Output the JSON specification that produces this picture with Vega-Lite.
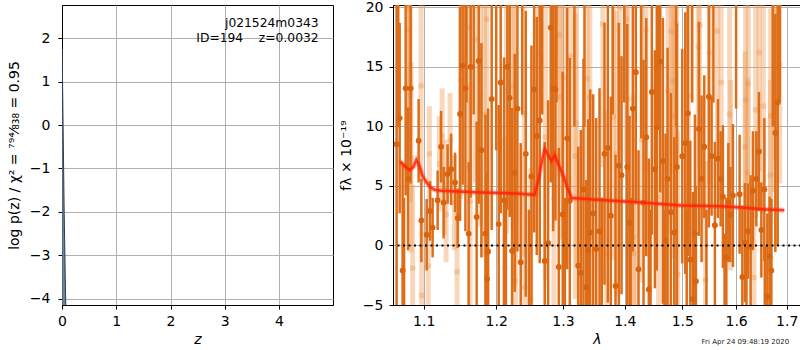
{
  "$schema": "https://vega.github.io/schema/vega-lite/v6.json",
  "padding": {"left": 6, "top": -1, "right": 0, "bottom": 0},
  "autosize": {"type": "pad"},
  "spacing": 4,
  "config": {
    "font": "DejaVu Sans",
    "view": {"stroke": "black", "strokeWidth": 1},
    "axis": {
      "grid": true, "gridColor": "#b0b0b0", "gridWidth": 1,
      "domainColor": "black", "tickColor": "black", "tickSize": 4,
      "labelFontSize": 14, "titleFontSize": 14, "labelColor": "black", "titleColor": "black",
      "titleFontWeight": "normal", "labelFont": "DejaVu Sans", "titleFont": "DejaVu Sans"
    }
  },
  "datasets": {
    "pz": [
      {"z": 0, "lp": 1.7}, {"z": 0.0032, "lp": 1.75}, {"z": 0.01, "lp": 1.0}, {"z": 0.02, "lp": 0.0},
      {"z": 0.04, "lp": -2.0}, {"z": 0.06, "lp": -3.5}, {"z": 0.075, "lp": -4.5}
    ],
    "notes": [
      {"z": 4.73, "lp": 2.34, "t": "j021524m0343"},
      {"z": 4.73, "lp": 2.0, "t": "ID=194\u00a0\u00a0\u00a0\u00a0z=0.0032"}
    ],
    "dark": [
      {"w": 1.0649, "f": 8.5, "lo": -5.5, "hi": 22.5},
      {"w": 1.0670, "f": 23, "lo": 10, "hi": 36},
      {"w": 1.0688, "f": 10.7, "lo": 2.7, "hi": 18.7},
      {"w": 1.0726, "f": -2.1, "lo": -11.1, "hi": 6.9},
      {"w": 1.0745, "f": -8, "lo": -20, "hi": 4},
      {"w": 1.0765, "f": 13.2, "lo": 4.2, "hi": 22.2},
      {"w": 1.0796, "f": 5.6, "lo": -0.4, "hi": 11.6},
      {"w": 1.0830, "f": 13.2, "lo": 5.2, "hi": 21.2},
      {"w": 1.0934, "f": 8.8, "lo": 5.3, "hi": 12.3},
      {"w": 1.0970, "f": 2.1, "lo": -1.4, "hi": 5.6},
      {"w": 1.1040, "f": 0.9, "lo": -2.1, "hi": 3.9},
      {"w": 1.1085, "f": 2.9, "lo": 0.4, "hi": 5.4},
      {"w": 1.1119, "f": 1.5, "lo": -1.0, "hi": 4.0},
      {"w": 1.1186, "f": 3.8, "lo": 1.3, "hi": 6.3},
      {"w": 1.1232, "f": 8.3, "lo": 5.3, "hi": 11.3},
      {"w": 1.1267, "f": 3.6, "lo": 0.6, "hi": 6.6},
      {"w": 1.1321, "f": 6.0, "lo": 3.5, "hi": 8.5},
      {"w": 1.1368, "f": 6.4, "lo": 3.4, "hi": 9.4},
      {"w": 1.1422, "f": 5.3, "lo": 2.8, "hi": 7.8},
      {"w": 1.1458, "f": 2.3, "lo": -0.2, "hi": 4.8},
      {"w": 1.1491, "f": 11.05, "lo": 2.05, "hi": 20.05},
      {"w": 1.1527, "f": 15.1, "lo": 5.1, "hi": 25.1},
      {"w": 1.1565, "f": 13.2, "lo": 1.2, "hi": 25.2},
      {"w": 1.1580, "f": 24, "lo": 12, "hi": 36},
      {"w": 1.1610, "f": 1.0, "lo": -5.0, "hi": 7.0},
      {"w": 1.1638, "f": 15.0, "lo": 4.0, "hi": 26.0},
      {"w": 1.1680, "f": 25, "lo": 11, "hi": 39},
      {"w": 1.1722, "f": 2.4, "lo": -5.6, "hi": 10.4},
      {"w": 1.1751, "f": 15.5, "lo": 3.5, "hi": 27.5},
      {"w": 1.1789, "f": 8.0, "lo": -1.0, "hi": 17.0},
      {"w": 1.1846, "f": 1.0, "lo": -9.0, "hi": 11.0},
      {"w": 1.1870, "f": -2.8, "lo": -11.8, "hi": 6.2},
      {"w": 1.1884, "f": -0.5, "lo": -12.5, "hi": 11.5},
      {"w": 1.1935, "f": 12.3, "lo": 1.3, "hi": 23.3},
      {"w": 1.2000, "f": 22, "lo": 8, "hi": 36},
      {"w": 1.2036, "f": 1.8, "lo": -8.2, "hi": 11.8},
      {"w": 1.2065, "f": 13.7, "lo": 2.7, "hi": 24.7},
      {"w": 1.2114, "f": 3.8, "lo": -8.2, "hi": 15.8},
      {"w": 1.2140, "f": -9, "lo": -22, "hi": 4},
      {"w": 1.2162, "f": 15.0, "lo": 3.0, "hi": 27.0},
      {"w": 1.2196, "f": 12.4, "lo": 2.4, "hi": 22.4},
      {"w": 1.2231, "f": -0.45, "lo": -12.45, "hi": 11.55},
      {"w": 1.2270, "f": 6.1, "lo": -3.9, "hi": 16.1},
      {"w": 1.2309, "f": 11.5, "lo": -0.5, "hi": 23.5},
      {"w": 1.2358, "f": -1.4, "lo": -11.4, "hi": 8.6},
      {"w": 1.2380, "f": 24, "lo": 11, "hi": 37},
      {"w": 1.2433, "f": 7.7, "lo": -4.3, "hi": 19.7},
      {"w": 1.2480, "f": -8, "lo": -19, "hi": 3},
      {"w": 1.2518, "f": 5.8, "lo": -5.2, "hi": 16.8},
      {"w": 1.2559, "f": 13.1, "lo": 1.1, "hi": 25.1},
      {"w": 1.2598, "f": 9.2, "lo": -0.8, "hi": 19.2},
      {"w": 1.2643, "f": 10.5, "lo": -1.5, "hi": 22.5},
      {"w": 1.2680, "f": 23, "lo": 11, "hi": 35},
      {"w": 1.2719, "f": -1.3, "lo": -11.3, "hi": 8.7},
      {"w": 1.2771, "f": 0.2, "lo": -11.8, "hi": 12.2},
      {"w": 1.2811, "f": 18.3, "lo": 5.3, "hi": 31.3},
      {"w": 1.2848, "f": 13.2, "lo": 1.2, "hi": 25.2},
      {"w": 1.2884, "f": 13.1, "lo": 2.1, "hi": 24.1},
      {"w": 1.2900, "f": 25, "lo": 12, "hi": 38},
      {"w": 1.2935, "f": -1.8, "lo": -11.8, "hi": 8.2},
      {"w": 1.2997, "f": 2.6, "lo": -9.4, "hi": 14.6},
      {"w": 1.3030, "f": -8, "lo": -20, "hi": 4},
      {"w": 1.3066, "f": 9.0, "lo": -2.0, "hi": 20.0},
      {"w": 1.3107, "f": 3.75, "lo": -8.25, "hi": 15.75},
      {"w": 1.3180, "f": 22, "lo": 10, "hi": 34},
      {"w": 1.3240, "f": -1.7, "lo": -11.7, "hi": 8.3},
      {"w": 1.3281, "f": -2.3, "lo": -14.3, "hi": 9.7},
      {"w": 1.3324, "f": 4.7, "lo": -6.3, "hi": 15.7},
      {"w": 1.3340, "f": 24, "lo": 10, "hi": 38},
      {"w": 1.3368, "f": -3.5, "lo": -12.5, "hi": 5.5},
      {"w": 1.3400, "f": -0.4, "lo": -11.4, "hi": 10.6},
      {"w": 1.3432, "f": 1.1, "lo": -10.9, "hi": 13.1},
      {"w": 1.3480, "f": 2.7, "lo": -7.3, "hi": 12.7},
      {"w": 1.3529, "f": -0.3, "lo": -11.3, "hi": 10.7},
      {"w": 1.3583, "f": 1.2, "lo": -10.8, "hi": 13.2},
      {"w": 1.3620, "f": -9, "lo": -22, "hi": 4},
      {"w": 1.3664, "f": 7.7, "lo": -3.3, "hi": 18.7},
      {"w": 1.3719, "f": 8.2, "lo": -4.8, "hi": 21.2},
      {"w": 1.3768, "f": 2.5, "lo": -7.5, "hi": 12.5},
      {"w": 1.3800, "f": 23, "lo": 11, "hi": 35},
      {"w": 1.3846, "f": -3.4, "lo": -14.4, "hi": 7.6},
      {"w": 1.3901, "f": 6.7, "lo": -5.3, "hi": 18.7},
      {"w": 1.3946, "f": 5.9, "lo": -4.1, "hi": 15.9},
      {"w": 1.3990, "f": 25, "lo": 12, "hi": 38},
      {"w": 1.4042, "f": 6.6, "lo": -5.4, "hi": 18.6},
      {"w": 1.4081, "f": 1.9, "lo": -7.1, "hi": 10.9},
      {"w": 1.4100, "f": -8, "lo": -20, "hi": 4},
      {"w": 1.4136, "f": 11.5, "lo": -0.5, "hi": 23.5},
      {"w": 1.4187, "f": 14.55, "lo": 3.55, "hi": 25.55},
      {"w": 1.4233, "f": -2.0, "lo": -12.0, "hi": 8.0},
      {"w": 1.4280, "f": 22, "lo": 9, "hi": 35},
      {"w": 1.4319, "f": 3.6, "lo": -8.4, "hi": 15.6},
      {"w": 1.4366, "f": 9.1, "lo": -0.9, "hi": 19.1},
      {"w": 1.4410, "f": -3.7, "lo": -14.7, "hi": 7.3},
      {"w": 1.4440, "f": -9, "lo": -21, "hi": 3},
      {"w": 1.4462, "f": 12.9, "lo": 0.9, "hi": 24.9},
      {"w": 1.4515, "f": 6.4, "lo": -3.6, "hi": 16.4},
      {"w": 1.4549, "f": 9.9, "lo": -2.1, "hi": 21.9},
      {"w": 1.4570, "f": 24, "lo": 10, "hi": 38},
      {"w": 1.4609, "f": 15.45, "lo": 4.45, "hi": 26.45},
      {"w": 1.4655, "f": 7.1, "lo": -4.9, "hi": 19.1},
      {"w": 1.4680, "f": -8, "lo": -19, "hi": 3},
      {"w": 1.4702, "f": 0.4, "lo": -8.6, "hi": 9.4},
      {"w": 1.4738, "f": 5.6, "lo": -5.4, "hi": 16.6},
      {"w": 1.4796, "f": 2.8, "lo": -7.2, "hi": 12.8},
      {"w": 1.4857, "f": 1.1, "lo": -6.9, "hi": 9.1},
      {"w": 1.4890, "f": 22, "lo": 10, "hi": 34},
      {"w": 1.4903, "f": 6.6, "lo": -5.4, "hi": 18.6},
      {"w": 1.5000, "f": 7.5, "lo": -1.5, "hi": 16.5},
      {"w": 1.5054, "f": 8.6, "lo": -2.4, "hi": 19.6},
      {"w": 1.5080, "f": -9, "lo": -21, "hi": 3},
      {"w": 1.5101, "f": 11.1, "lo": -0.9, "hi": 23.1},
      {"w": 1.5145, "f": -1.2, "lo": -11.2, "hi": 8.8},
      {"w": 1.5180, "f": 23, "lo": 12, "hi": 34},
      {"w": 1.5192, "f": -4.5, "lo": -13.5, "hi": 4.5},
      {"w": 1.5229, "f": 1.0, "lo": -9.0, "hi": 11.0},
      {"w": 1.5247, "f": -3.0, "lo": -11.0, "hi": 5.0},
      {"w": 1.5302, "f": 9.8, "lo": 0.8, "hi": 18.8},
      {"w": 1.5351, "f": 5.6, "lo": -1.4, "hi": 12.6},
      {"w": 1.5401, "f": 8.3, "lo": 2.3, "hi": 14.3},
      {"w": 1.5440, "f": -8, "lo": -19, "hi": 3},
      {"w": 1.5487, "f": 12.5, "lo": 1.5, "hi": 23.5},
      {"w": 1.5537, "f": 7.5, "lo": 2.5, "hi": 12.5},
      {"w": 1.5570, "f": 21, "lo": 12, "hi": 30},
      {"w": 1.5598, "f": 1.7, "lo": -5.3, "hi": 8.7},
      {"w": 1.5655, "f": 7.3, "lo": 2.3, "hi": 12.3},
      {"w": 1.5706, "f": 5.6, "lo": 1.6, "hi": 9.6},
      {"w": 1.5749, "f": 4.1, "lo": -1.9, "hi": 10.1},
      {"w": 1.5780, "f": -7, "lo": -15, "hi": 1},
      {"w": 1.5814, "f": -1.0, "lo": -6.0, "hi": 4.0},
      {"w": 1.5852, "f": 3.6, "lo": -1.4, "hi": 8.6},
      {"w": 1.5890, "f": 2.6, "lo": -1.4, "hi": 6.6},
      {"w": 1.5939, "f": 4.2, "lo": -1.8, "hi": 10.2},
      {"w": 1.6000, "f": 20.5, "lo": 11.5, "hi": 29.5},
      {"w": 1.6068, "f": 4.3, "lo": -0.7, "hi": 9.3},
      {"w": 1.6120, "f": -2.65, "lo": -8.65, "hi": 3.35},
      {"w": 1.6170, "f": 0.24, "lo": -4.76, "hi": 5.24},
      {"w": 1.6200, "f": -7, "lo": -14, "hi": 0},
      {"w": 1.6229, "f": 1.2, "lo": -2.8, "hi": 5.2},
      {"w": 1.6281, "f": -0.1, "lo": -6.1, "hi": 5.9},
      {"w": 1.6326, "f": 4.6, "lo": -0.4, "hi": 9.6},
      {"w": 1.6393, "f": 5.6, "lo": 1.6, "hi": 9.6},
      {"w": 1.6445, "f": 7.9, "lo": 2.9, "hi": 12.9},
      {"w": 1.6492, "f": 1.3, "lo": -2.7, "hi": 5.3},
      {"w": 1.6551, "f": 4.7, "lo": -1.3, "hi": 10.7},
      {"w": 1.6560, "f": -8, "lo": -16, "hi": 0},
      {"w": 1.6611, "f": -4.3, "lo": -11.3, "hi": 2.7},
      {"w": 1.6657, "f": -0.9, "lo": -5.9, "hi": 4.1},
      {"w": 1.6691, "f": -2.1, "lo": -8.1, "hi": 3.9},
      {"w": 1.6720, "f": 21, "lo": 10, "hi": 32},
      {"w": 1.6771, "f": 9.45, "lo": -0.55, "hi": 19.45},
      {"w": 1.6818, "f": 12.0, "lo": 0.0, "hi": 24.0},
      {"w": 1.6860, "f": 22, "lo": 12, "hi": 32}
    ],
    "light": [
      {"w": 1.0791, "f": 18.1, "lo": 6.1, "hi": 30.1},
      {"w": 1.0813, "f": 20.0, "lo": 8.0, "hi": 32.0},
      {"w": 1.0826, "f": 12.6, "lo": 3.6, "hi": 21.6},
      {"w": 1.0834, "f": 7.4, "lo": -0.6, "hi": 15.4},
      {"w": 1.0856, "f": -1.9, "lo": -8.9, "hi": 5.1},
      {"w": 1.0966, "f": 13.4, "lo": 5.4, "hi": 21.4},
      {"w": 1.0974, "f": -4.2, "lo": -10.2, "hi": 1.8},
      {"w": 1.1060, "f": -1.7, "lo": -6.7, "hi": 3.3},
      {"w": 1.1075, "f": 7.7, "lo": 3.7, "hi": 11.7},
      {"w": 1.1209, "f": 6.85, "lo": 2.85, "hi": 10.85},
      {"w": 1.1246, "f": 9.2, "lo": 5.2, "hi": 13.2},
      {"w": 1.1277, "f": 4.9, "lo": 0.9, "hi": 8.9},
      {"w": 1.1300, "f": 2.6, "lo": -1.4, "hi": 6.6},
      {"w": 1.1354, "f": 8.8, "lo": 4.8, "hi": 12.8},
      {"w": 1.1413, "f": 3.6, "lo": -0.4, "hi": 7.6},
      {"w": 1.1450, "f": -2.2, "lo": -7.2, "hi": 2.8},
      {"w": 1.1500, "f": 13.9, "lo": 3.9, "hi": 23.9},
      {"w": 1.1620, "f": 18.3, "lo": 6.3, "hi": 30.3},
      {"w": 1.1630, "f": 3.7, "lo": -6.3, "hi": 13.7},
      {"w": 1.1704, "f": 17.3, "lo": 5.3, "hi": 29.3},
      {"w": 1.1775, "f": 12.6, "lo": 1.6, "hi": 23.6},
      {"w": 1.1831, "f": 11.0, "lo": -1.0, "hi": 23.0},
      {"w": 1.1864, "f": 19.0, "lo": 7.0, "hi": 31.0},
      {"w": 1.2123, "f": -1.9, "lo": -12.9, "hi": 9.1},
      {"w": 1.2148, "f": 13.0, "lo": 1.0, "hi": 25.0},
      {"w": 1.2246, "f": 13.4, "lo": 1.4, "hi": 25.4},
      {"w": 1.2261, "f": 8.5, "lo": -3.5, "hi": 20.5},
      {"w": 1.2280, "f": -3.0, "lo": -14.0, "hi": 8.0},
      {"w": 1.2409, "f": 11.05, "lo": -0.95, "hi": 23.05},
      {"w": 1.2418, "f": -3.5, "lo": -14.5, "hi": 7.5},
      {"w": 1.2507, "f": -4.5, "lo": -15.5, "hi": 6.5},
      {"w": 1.2619, "f": 16.1, "lo": 4.1, "hi": 28.1},
      {"w": 1.2730, "f": 9.1, "lo": -2.9, "hi": 21.1},
      {"w": 1.2860, "f": 3.9, "lo": -8.1, "hi": 15.9},
      {"w": 1.2945, "f": 17.7, "lo": 5.7, "hi": 29.7},
      {"w": 1.2961, "f": 12.5, "lo": 0.5, "hi": 24.5},
      {"w": 1.3013, "f": 14.1, "lo": 2.1, "hi": 26.1},
      {"w": 1.3122, "f": 15.9, "lo": 3.9, "hi": 27.9},
      {"w": 1.3195, "f": 7.5, "lo": -4.5, "hi": 19.5},
      {"w": 1.3213, "f": 10.3, "lo": -1.7, "hi": 22.3},
      {"w": 1.3384, "f": 14.0, "lo": 2.0, "hi": 26.0},
      {"w": 1.3425, "f": 12.45, "lo": 0.45, "hi": 24.45},
      {"w": 1.3636, "f": 18.6, "lo": 6.6, "hi": 30.6},
      {"w": 1.3702, "f": -0.7, "lo": -12.7, "hi": 11.3},
      {"w": 1.3813, "f": 10.8, "lo": -1.2, "hi": 22.8},
      {"w": 1.3858, "f": 7.7, "lo": -4.3, "hi": 19.7},
      {"w": 1.3912, "f": 20.0, "lo": 8.0, "hi": 32.0},
      {"w": 1.4025, "f": 19.0, "lo": 7.0, "hi": 31.0},
      {"w": 1.4052, "f": 12.3, "lo": 0.3, "hi": 24.3},
      {"w": 1.4150, "f": 0.7, "lo": -11.3, "hi": 12.7},
      {"w": 1.4165, "f": -0.7, "lo": -12.7, "hi": 11.3},
      {"w": 1.4290, "f": 8.9, "lo": -3.1, "hi": 20.9},
      {"w": 1.4359, "f": 18.1, "lo": 6.1, "hi": 30.1},
      {"w": 1.4579, "f": 4.1, "lo": -7.9, "hi": 16.1},
      {"w": 1.4745, "f": 13.0, "lo": 1.0, "hi": 25.0},
      {"w": 1.4805, "f": 18.0, "lo": 6.0, "hi": 30.0},
      {"w": 1.4832, "f": 13.8, "lo": 1.8, "hi": 25.8},
      {"w": 1.4849, "f": 10.9, "lo": -1.1, "hi": 22.9},
      {"w": 1.4895, "f": 18.6, "lo": 6.6, "hi": 30.6},
      {"w": 1.4915, "f": -2.4, "lo": -14.4, "hi": 9.6},
      {"w": 1.5110, "f": 12.6, "lo": 0.6, "hi": 24.6},
      {"w": 1.5290, "f": 16.7, "lo": 4.7, "hi": 28.7},
      {"w": 1.5315, "f": 18.5, "lo": 6.5, "hi": 30.5},
      {"w": 1.5425, "f": -2.9, "lo": -12.9, "hi": 7.1},
      {"w": 1.5495, "f": 16.2, "lo": 5.2, "hi": 27.2},
      {"w": 1.5643, "f": 18.0, "lo": 7.0, "hi": 29.0},
      {"w": 1.5715, "f": 13.7, "lo": 3.7, "hi": 23.7},
      {"w": 1.5876, "f": 11.0, "lo": 2.0, "hi": 20.0},
      {"w": 1.5895, "f": 5.9, "lo": -2.1, "hi": 13.9},
      {"w": 1.6175, "f": 8.3, "lo": 0.3, "hi": 16.3},
      {"w": 1.6184, "f": 12.2, "lo": 3.2, "hi": 21.2},
      {"w": 1.6217, "f": 6.1, "lo": -1.9, "hi": 14.1},
      {"w": 1.6237, "f": 13.6, "lo": 4.6, "hi": 22.6},
      {"w": 1.6346, "f": -2.7, "lo": -9.7, "hi": 4.3},
      {"w": 1.6380, "f": 11.4, "lo": 2.4, "hi": 20.4},
      {"w": 1.6450, "f": 16.2, "lo": 6.2, "hi": 26.2},
      {"w": 1.6531, "f": 11.7, "lo": 2.7, "hi": 20.7},
      {"w": 1.6671, "f": 5.9, "lo": -2.1, "hi": 13.9},
      {"w": 1.6677, "f": 10.9, "lo": 1.9, "hi": 19.9},
      {"w": 1.6743, "f": 14.5, "lo": 4.5, "hi": 24.5},
      {"w": 1.6777, "f": 18.1, "lo": 7.1, "hi": 29.1},
      {"w": 1.6858, "f": 15.2, "lo": 5.2, "hi": 25.2}
    ],
    "model": [
      {"w": 1.0688, "f": 6.93}, {"w": 1.0710, "f": 6.98}, {"w": 1.0761, "f": 6.6}, {"w": 1.0817, "f": 6.34},
      {"w": 1.0865, "f": 6.6}, {"w": 1.0904, "f": 7.18}, {"w": 1.0943, "f": 6.7}, {"w": 1.0983, "f": 5.9},
      {"w": 1.1036, "f": 5.3}, {"w": 1.1089, "f": 4.9}, {"w": 1.1146, "f": 4.68}, {"w": 1.1236, "f": 4.6},
      {"w": 1.1789, "f": 4.45}, {"w": 1.2369, "f": 4.35}, {"w": 1.2563, "f": 4.25}, {"w": 1.2623, "f": 5.5},
      {"w": 1.2684, "f": 7.3}, {"w": 1.2719, "f": 8.1}, {"w": 1.2771, "f": 7.6}, {"w": 1.2822, "f": 7.1},
      {"w": 1.2873, "f": 7.6}, {"w": 1.2930, "f": 6.8}, {"w": 1.3003, "f": 5.9}, {"w": 1.3071, "f": 4.8},
      {"w": 1.3134, "f": 3.98}, {"w": 1.3615, "f": 3.81}, {"w": 1.4285, "f": 3.6}, {"w": 1.4991, "f": 3.35},
      {"w": 1.5724, "f": 3.3}, {"w": 1.6106, "f": 3.2}, {"w": 1.6498, "f": 3.05}, {"w": 1.6953, "f": 2.95}
    ]
  },
  "hconcat": [
    {
      "width": 271,
      "height": 300,
      "layer": [
        {
          "data": {"name": "pz"},
          "mark": {"type": "area", "clip": true, "color": "#5b7890", "opacity": 0.9, "line": {"color": "#2b3d4f", "strokeWidth": 1}},
          "encoding": {
            "x": {"field": "z", "type": "quantitative", "title": "z",
              "scale": {"domain": [0, 4.995], "nice": false, "zero": false},
              "axis": {"values": [0, 1, 2, 3, 4], "format": "d", "titleFontStyle": "italic", "labelPadding": 5, "titlePadding": 4, "labelFlush": false}},
            "y": {"field": "lp", "type": "quantitative", "title": "log p(z) / χ² = ⁷⁹⁴⁄₈₃₈ = 0.95",
              "scale": {"domain": [-4.14, 2.76], "nice": false, "zero": false},
              "axis": {"values": [-4, -3, -2, -1, 0, 1, 2], "format": "d", "labelPadding": 8, "minExtent": 29, "maxExtent": 29, "titlePadding": 12}},
            "y2": {"datum": -4.14}
          }
        },
        {
          "data": {"name": "notes"},
          "mark": {"type": "text", "align": "right", "baseline": "middle", "fontSize": 12.3, "color": "black"},
          "encoding": {
            "x": {"field": "z", "type": "quantitative", "title": "z", "scale": {"domain": [0, 4.995], "nice": false, "zero": false}},
            "y": {"field": "lp", "type": "quantitative", "title": "log p(z) / χ² = ⁷⁹⁴⁄₈₃₈ = 0.95", "scale": {"domain": [-4.14, 2.76], "nice": false, "zero": false}},
            "text": {"field": "t"}
          }
        }
      ]
    },
    {
      "width": 408,
      "height": 300,
      "layer": [
        {
          "data": {"name": "light"},
          "mark": {"type": "rule", "clip": true, "color": "#ee9a55", "opacity": 0.4, "strokeWidth": 5},
          "encoding": {
            "x": {"field": "w", "type": "quantitative", "title": "λ",
              "scale": {"type": "log", "domain": [1.0603, 1.7295], "nice": false},
              "axis": {"values": [1.1, 1.2, 1.3, 1.4, 1.5, 1.6, 1.7], "format": ".1f", "labelPadding": 5, "titlePadding": 4, "titleFontStyle": "italic"}},
            "y": {"field": "lo", "type": "quantitative", "title": "fλ × 10⁻¹⁹",
              "scale": {"domain": [-5, 20.2], "nice": false, "zero": false},
              "axis": {"values": [-5, 0, 5, 10, 15, 20], "format": "d", "labelPadding": 6, "minExtent": 28, "maxExtent": 28, "titlePadding": 12}},
            "y2": {"field": "hi"}
          }
        },
        {
          "data": {"name": "light"},
          "mark": {"type": "circle", "clip": true, "color": "#e88a40", "opacity": 0.3, "size": 34},
          "encoding": {
            "x": {"field": "w", "type": "quantitative", "title": "λ"},
            "y": {"field": "f", "type": "quantitative", "title": "fλ × 10⁻¹⁹"}
          }
        },
        {
          "data": {"name": "dark"},
          "mark": {"type": "rule", "clip": true, "color": "#dd6d18", "strokeWidth": 2.5},
          "encoding": {
            "x": {"field": "w", "type": "quantitative", "title": "λ"},
            "y": {"field": "lo", "type": "quantitative", "title": "fλ × 10⁻¹⁹"},
            "y2": {"field": "hi"}
          }
        },
        {
          "data": {"name": "dark"},
          "mark": {"type": "circle", "clip": true, "color": "#d9640f", "opacity": 1, "size": 34},
          "encoding": {
            "x": {"field": "w", "type": "quantitative", "title": "λ"},
            "y": {"field": "f", "type": "quantitative", "title": "fλ × 10⁻¹⁹"}
          }
        },
        {
          "data": {"values": [{"f": 0}]},
          "mark": {"type": "rule", "color": "black", "strokeDash": [2, 3.5], "strokeWidth": 2},
          "encoding": {
            "y": {"field": "f", "type": "quantitative", "title": "fλ × 10⁻¹⁹"}
          }
        },
        {
          "data": {"name": "model"},
          "mark": {"type": "line", "clip": true, "color": "#ff3b1f", "opacity": 0.35, "strokeWidth": 5},
          "encoding": {
            "x": {"field": "w", "type": "quantitative", "title": "λ"},
            "y": {"field": "f", "type": "quantitative", "title": "fλ × 10⁻¹⁹"}
          }
        },
        {
          "data": {"name": "model"},
          "mark": {"type": "line", "clip": true, "color": "#ff2000", "opacity": 0.8, "strokeWidth": 2.5},
          "encoding": {
            "x": {"field": "w", "type": "quantitative", "title": "λ"},
            "y": {"field": "f", "type": "quantitative", "title": "fλ × 10⁻¹⁹"}
          }
        },
        {
          "data": {"values": [{"w": 1.705, "f": -8.1, "t": "Fri Apr 24 09:48:19 2020"}]},
          "mark": {"type": "text", "align": "right", "baseline": "middle", "fontSize": 7, "color": "#222222"},
          "encoding": {
            "x": {"field": "w", "type": "quantitative", "title": "λ"},
            "y": {"field": "f", "type": "quantitative", "title": "fλ × 10⁻¹⁹"},
            "text": {"field": "t"}
          }
        }
      ]
    }
  ]
}
